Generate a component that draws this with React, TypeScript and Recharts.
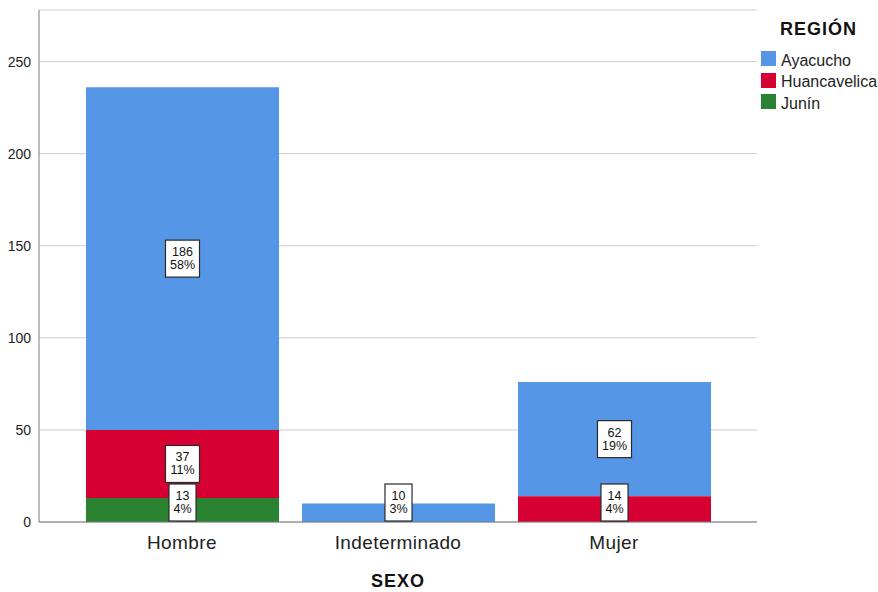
import { BarChart, Bar, XAxis, YAxis, CartesianGrid, LabelList } from "recharts"

const categories = ["Hombre", "Indeterminado", "Mujer"]
const ayacucho = [186, 10, 62]
const huancavelica = [37, 0, 14]
const junin = [13, 0, 0]
const yTicks = [0, 50, 100, 150, 200, 250]

const regions = [
  { key: "ayacucho", name: "Ayacucho", color: "#5596e6" },
  { key: "huancavelica", name: "Huancavelica", color: "#d60033" },
  { key: "junin", name: "Junín", color: "#2a8230" },
]

const total = [...ayacucho, ...huancavelica, ...junin].reduce((a, b) => a + b, 0)

const data = categories.map((sexo, i) => ({
  sexo,
  ayacucho: ayacucho[i],
  huancavelica: huancavelica[i],
  junin: junin[i],
}))

const FONT = '"Liberation Sans", Arial, sans-serif'

const textWidth = (s: string, size: number) =>
  [...s].reduce((w, c) => w + (c === "%" ? 0.889 : 0.556), 0) * size

function CountLabel(props: any) {
  const { x, y, width, height, value } = props
  if (!value) return null
  const line1 = String(value)
  const line2 = `${Math.round((value / total) * 100)}%`
  const w = Math.max(textWidth(line1, 12.5), textWidth(line2, 12.5)) + 9
  const h = 37
  const cx = x + width / 2
  const cy = Math.min(y + height / 2, y + height - h / 2 - 1)
  return (
    <g>
      <rect x={cx - w / 2} y={cy - h / 2} width={w} height={h} fill="#fff" stroke="#2a2a2a" strokeWidth={1.2} />
      <text x={cx} y={cy - 6.5} textAnchor="middle" dominantBaseline="central" fontSize={12.5} fill="#111" fontFamily={FONT}>
        {line1}
      </text>
      <text x={cx} y={cy + 6.5} textAnchor="middle" dominantBaseline="central" fontSize={12.5} fill="#111" fontFamily={FONT}>
        {line2}
      </text>
    </g>
  )
}

function SexoTick({ x, y, payload }: any) {
  return (
    <text x={x} y={y} dy={27} textAnchor="middle" fontSize={19} fill="#222" fontFamily={FONT} style={{ letterSpacing: 0.4 }}>
      {payload.value}
    </text>
  )
}

export default function App() {
  return (
    <div style={{ position: "absolute", left: 0, top: 0, width: 878, height: 592, background: "#fff", fontFamily: FONT }}>
      <BarChart
        width={878}
        height={592}
        data={data}
        margin={{ top: 10, right: 121, bottom: 0, left: 0 }}
        reverseStackOrder
      >
        <CartesianGrid vertical={false} stroke="#cccccc" />
        <XAxis
          dataKey="sexo"
          height={70}
          padding={{ left: 35, right: 35 }}
          tickLine={false}
          tickSize={0}
          tickMargin={0}
          tick={<SexoTick />}
          stroke="#7a7a7a"
          label={{
            value: "SEXO",
            position: "insideBottom",
            offset: 5,
            fontSize: 18,
            fontWeight: "bold",
            fill: "#111",
            style: { letterSpacing: 1 },
          }}
        />
        <YAxis
          width={39}
          domain={[0, 278]}
          ticks={yTicks}
          tickLine={false}
          tickSize={0}
          tickMargin={8}
          stroke="#7a7a7a"
          tick={{ fontSize: 14, fill: "#222" }}
          allowDataOverflow
        />
        {regions.map((r) => (
          <Bar key={r.key} dataKey={r.key} name={r.name} stackId="a" fill={r.color} barSize={193} isAnimationActive={false}>
            <LabelList dataKey={r.key} content={<CountLabel />} />
          </Bar>
        ))}
      </BarChart>
      <div style={{ position: "absolute", left: 740, top: 0, width: 138 }}>
        <div
          style={{
            position: "absolute",
            left: 40,
            top: 18,
            fontSize: 18,
            fontWeight: "bold",
            letterSpacing: 1,
            color: "#111",
            lineHeight: "22px",
          }}
        >
          REGIÓN
        </div>
        {regions.map((r, i) => (
          <div key={r.key} style={{ position: "absolute", left: 21, top: 51 + i * 21.5, height: 15, display: "flex", alignItems: "center" }}>
            <span style={{ width: 15, height: 15, background: r.color, display: "inline-block" }} />
            <span
              style={{
                marginLeft: 5,
                fontSize: 16,
                color: "#222",
                lineHeight: "15px",
                whiteSpace: "nowrap",
                position: "relative",
                top: 1.5,
              }}
            >
              {r.name}
            </span>
          </div>
        ))}
      </div>
    </div>
  )
}
